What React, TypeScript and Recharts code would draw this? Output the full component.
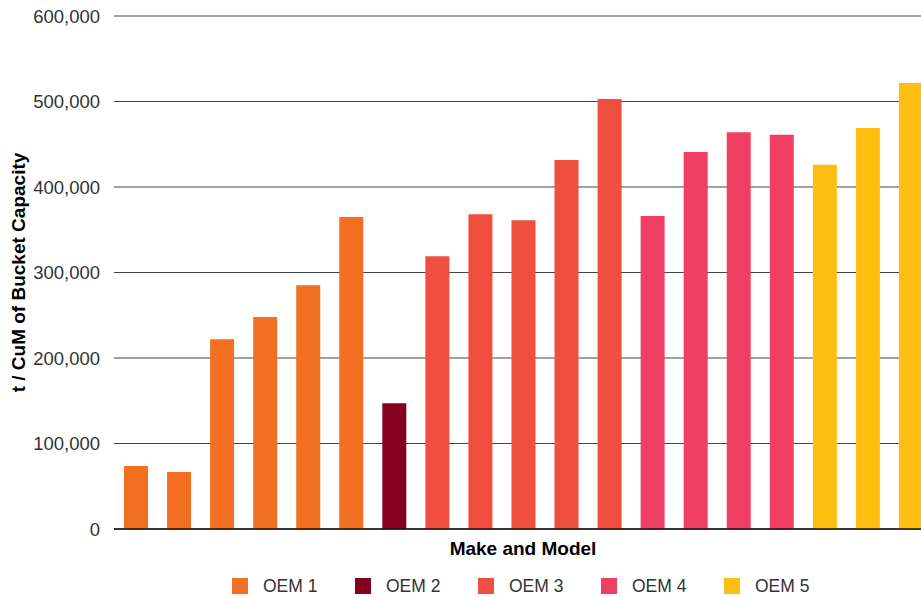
import React from "react";
import { BarChart, Bar, XAxis, YAxis, CartesianGrid, Legend } from "recharts";

const models = [
  "Model 1", "Model 2", "Model 3", "Model 4", "Model 5", "Model 6",
  "Model 7", "Model 8", "Model 9", "Model 10", "Model 11", "Model 12",
  "Model 13", "Model 14", "Model 15", "Model 16", "Model 17", "Model 18", "Model 19",
];
const modelOem = [1, 1, 1, 1, 1, 1, 2, 3, 3, 3, 3, 3, 4, 4, 4, 4, 5, 5, 5];
const capacity = [
  73700, 66700, 222000, 248000, 285000, 365000, 147000, 319000, 368000, 361000,
  431500, 503000, 366000, 441000, 464000, 461000, 426000, 469000, 521500,
];
const oemNames = ["OEM 1", "OEM 2", "OEM 3", "OEM 4", "OEM 5"];
const oemColors = ["#F37022", "#86001F", "#F04E3E", "#F03F62", "#FDBE11"];
const yTicks = [0, 100000, 200000, 300000, 400000, 500000, 600000];

const data = models.map((m, i) => {
  const row: Record<string, string | number | undefined> = { model: m };
  oemNames.forEach((_, k) => {
    row["oem" + (k + 1)] = modelOem[i] === k + 1 ? capacity[i] : undefined;
  });
  return row;
});

const fmt = (v: number) => v.toLocaleString("en-US");

const FONT = "'Liberation Sans', Arial, Helvetica, sans-serif";

const renderLegend = (props: any) => {
  const payload = props.payload || [];
  return (
    <div
      style={{
        height: 28,
        width: 932,
        boxSizing: "border-box",
        paddingLeft: 232,
        paddingTop: 9,
        display: "flex",
        fontFamily: FONT,
      }}
    >
      {payload.map((p: any, i: number) => (
        <div key={i} style={{ width: 123, height: 16, display: "flex", alignItems: "center" }}>
          <div style={{ width: 16, height: 16, background: p.color, marginRight: 15 }} />
          <span style={{ fontSize: 17.5, lineHeight: "16px", color: "#333" }}>{p.value}</span>
        </div>
      ))}
    </div>
  );
};

export default function App() {
  return (
    <div
      style={{
        position: "fixed",
        left: 0,
        top: 0,
        width: 921,
        height: 597,
        overflow: "hidden",
        background: "#fff",
      }}
    >
      <BarChart
        width={932}
        height={597}
        data={data}
        margin={{ top: 16, right: 0, bottom: 0, left: 0 }}
      >
        <CartesianGrid vertical={false} stroke="#444" strokeWidth={1} />
        <XAxis
          dataKey="model"
          height={40}
          tick={false}
          tickLine={false}
          axisLine={{ stroke: "#111", strokeWidth: 1.5 }}
          label={{
            value: "Make and Model",
            position: "insideTop",
            offset: 13,
            style: { fontFamily: FONT, fontWeight: "bold", fontSize: 19, fill: "#000" },
          }}
        />
        <YAxis
          width={114}
          domain={[0, 600000]}
          ticks={yTicks}
          tickFormatter={fmt}
          axisLine={false}
          tickLine={false}
          tickMargin={8}
          tick={{ fontFamily: FONT, fontSize: 18.5, fill: "#333" }}
          label={{
            value: "t / CuM of Bucket Capacity",
            angle: -90,
            position: "insideLeft",
            offset: 18,
            style: { textAnchor: "middle", fontFamily: FONT, fontWeight: "bold", fontSize: 19, fill: "#000" },
          }}
        />
        <Legend
          verticalAlign="bottom"
          content={renderLegend}
          wrapperStyle={{ left: 0, top: 569, bottom: undefined, width: 932, height: 28 }}
        />
        {oemNames.map((name, k) => (
          <Bar
            key={name}
            dataKey={"oem" + (k + 1)}
            name={name}
            stackId="a"
            fill={oemColors[k]}
            barSize={24}
            isAnimationActive={false}
          />
        ))}
      </BarChart>
    </div>
  );
}
